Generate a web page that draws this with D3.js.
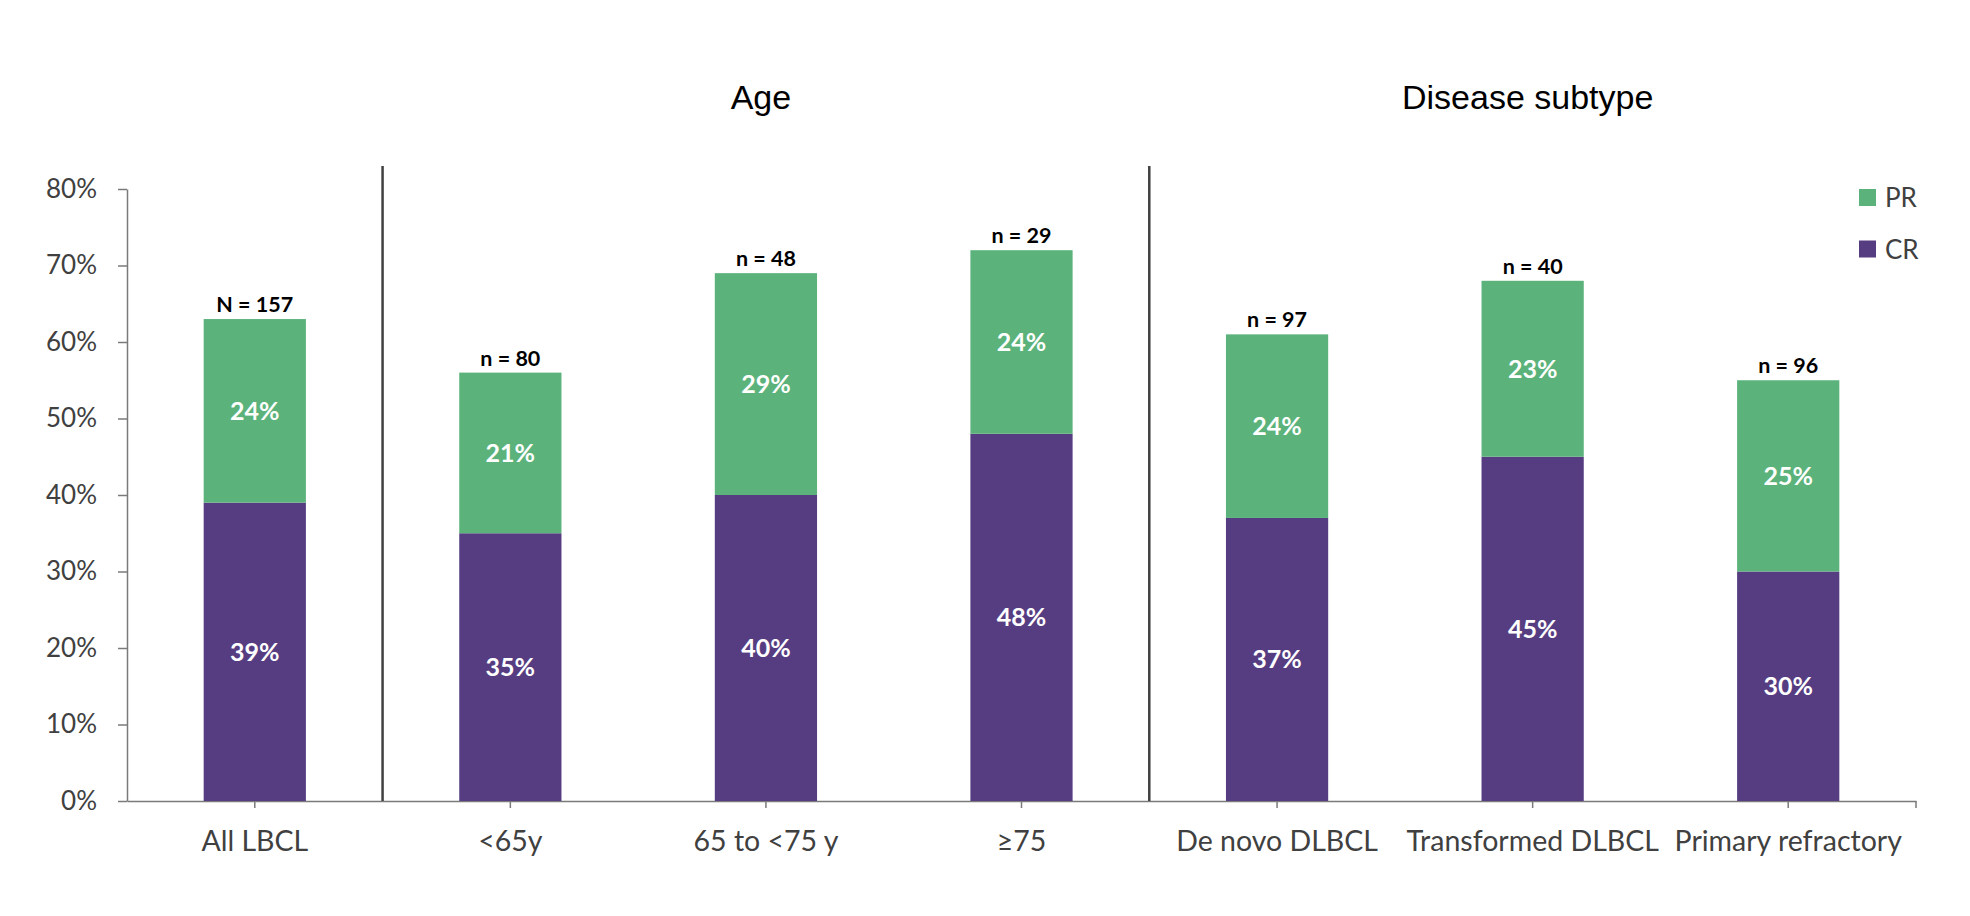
<!DOCTYPE html>
<html>
<head>
<meta charset="utf-8">
<script src="https://cdn.jsdelivr.net/npm/d3@7"></script>
<style>
    body { margin: 0; background: #fff; }
    svg { display: block; }
</style>
</head>
<body>
<div id="chart"></div>
<script>
// data
const categories = ['All LBCL', '<65y', '65 to <75 y', '≥75', 'De novo DLBCL', 'Transformed DLBCL', 'Primary refractory'];
const crValues = [39, 35, 40, 48, 37, 45, 30];
const prValues = [24, 21, 29, 24, 24, 23, 25];
const nLabels = ['N = 157', 'n = 80', 'n = 48', 'n = 29', 'n = 97', 'n = 40', 'n = 96'];
const groups = [
    { name: 'Age', members: ['<65y', '65 to <75 y', '≥75'] },
    { name: 'Disease subtype', members: ['De novo DLBCL', 'Transformed DLBCL', 'Primary refractory'] },
];
const seriesNames = ['CR', 'PR'];
const yTicks = [0, 10, 20, 30, 40, 50, 60, 70, 80];

const width = 1970;
const height = 916;
const margin = { top: 189, right: 54, bottom: 115, left: 127 };

const colors = { CR: '#563d82', PR: '#5bb37b' };
const textFont = 'Lato, "Source Sans Pro", "Noto Sans", sans-serif';

const table = categories.map((c, i) => ({ category: c, CR: crValues[i], PR: prValues[i], n: nLabels[i] }));
const stacked = d3.stack().keys(seriesNames)(table);

const x = d3.scaleBand()
    .domain(categories)
    .range([margin.left, width - margin.right])
    .paddingInner(0.6)
    .paddingOuter(0.3);
const y = d3.scaleLinear()
    .domain([0, 80])
    .range([height - margin.bottom, margin.top]);

const svg = d3.select('#chart').append('svg')
    .attr('width', width)
    .attr('height', height);

// y axis
const yAxis = svg.append('g')
    .attr('transform', `translate(${margin.left},0)`)
    .call(d3.axisLeft(y).tickValues(yTicks).tickFormat(d => `${d}%`).tickSize(9).tickSizeOuter(0).tickPadding(21));
yAxis.selectAll('path, line').attr('stroke', '#7a7a7a').attr('stroke-width', 1.5);
yAxis.selectAll('text')
    .attr('fill', '#404040')
    .style('font-family', textFont)
    .style('font-size', '26px');

// x axis
const xAxis = svg.append('g')
    .attr('transform', `translate(0,${y(0)})`)
    .call(d3.axisBottom(x).tickSize(7).tickSizeOuter(0));
xAxis.select('.domain').attr('stroke', '#7a7a7a').attr('stroke-width', 1.5);
xAxis.selectAll('line').attr('stroke', '#7a7a7a').attr('stroke-width', 1.5);
xAxis.append('line')
    .attr('x1', x.range()[1])
    .attr('x2', x.range()[1])
    .attr('y2', 7)
    .attr('stroke', '#7a7a7a')
    .attr('stroke-width', 1.5);
xAxis.selectAll('text')
    .attr('y', 50)
    .attr('dy', 0)
    .attr('fill', '#404040')
    .style('font-family', textFont)
    .style('font-size', '28.5px');

// group dividers, at the left edge of each group
groups.forEach((g) => {
    const xLine = x(g.members[0]) - (x.step() * x.paddingInner()) / 2;
    svg.append('line')
        .attr('x1', xLine)
        .attr('x2', xLine)
        .attr('y1', y(80) - 23)
        .attr('y2', y(0))
        .attr('stroke', '#404040')
        .attr('stroke-width', 2.5);

    const mid = d3.mean(g.members, m => x(m) + x.bandwidth() / 2);
    svg.append('text')
        .attr('x', mid - 5)
        .attr('y', 109)
        .attr('text-anchor', 'middle')
        .style('font-family', '"Liberation Sans", Arial, sans-serif')
        .style('font-size', '34px')
        .text(g.name);
});

// stacked bars
const layer = svg.selectAll('.layer')
    .data(stacked)
    .enter().append('g')
    .attr('class', 'layer')
    .attr('fill', d => colors[d.key]);

layer.selectAll('rect')
    .data(d => d)
    .enter().append('rect')
    .attr('x', d => x(d.data.category))
    .attr('y', d => y(d[1]))
    .attr('width', x.bandwidth())
    .attr('height', d => y(d[0]) - y(d[1]));

layer.selectAll('.value')
    .data(d => d.map(v => ({ v, key: d.key })))
    .enter().append('text')
    .attr('class', 'value')
    .attr('x', d => x(d.v.data.category) + x.bandwidth() / 2)
    .attr('y', d => y((d.v[0] + d.v[1]) / 2))
    .attr('dy', '0.36em')
    .attr('text-anchor', 'middle')
    .attr('fill', '#fff')
    .style('font-family', textFont)
    .style('font-weight', 700)
    .style('font-size', '25px')
    .text(d => `${d.v.data[d.key]}%`);

// n labels above bars
svg.selectAll('.nlabel')
    .data(table)
    .enter().append('text')
    .attr('class', 'nlabel')
    .attr('x', d => x(d.category) + x.bandwidth() / 2)
    .attr('y', d => y(d.CR + d.PR) - 7)
    .attr('text-anchor', 'middle')
    .attr('fill', '#000')
    .style('font-family', textFont)
    .style('font-weight', 700)
    .style('font-size', '21.5px')
    .text(d => d.n);

// legend
const legend = svg.selectAll('.legend')
    .data(['PR', 'CR'])
    .enter().append('g')
    .attr('class', 'legend')
    .attr('transform', (d, i) => `translate(1859,${189 + i * 51.5})`);

legend.append('rect')
    .attr('width', 17)
    .attr('height', 17)
    .attr('fill', d => colors[d]);

legend.append('text')
    .attr('x', 26)
    .attr('y', 18)
    .attr('fill', '#404040')
    .style('font-family', textFont)
    .style('font-size', '26px')
    .text(d => d);
</script>
</body>
</html>
